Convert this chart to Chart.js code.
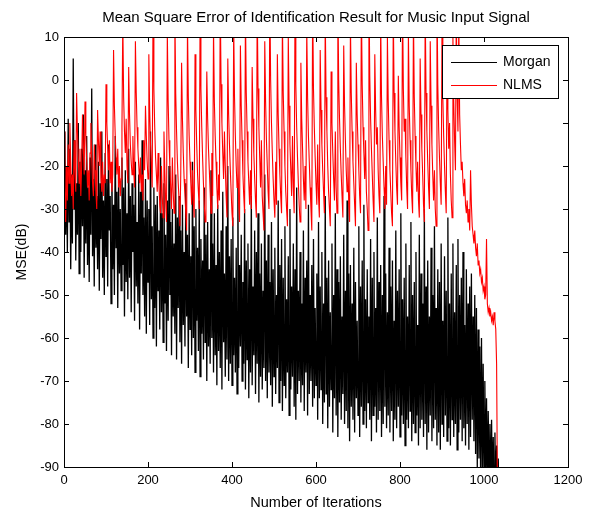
<!DOCTYPE html>
<html>
<head>
<meta charset="utf-8">
<script src="https://cdn.jsdelivr.net/npm/chart.js@4.4.1/dist/chart.umd.min.js"></script>
<style>
  html, body { margin: 0; padding: 0; background: #fff; }
</style>
</head>
<body>
<canvas id="mse" width="592" height="513"></canvas>
<script>
// one sample every 2 iterations (dB)
const STEP = 2;

const morgan = [
  -30, -12, -36, -20, -40, -9, -33, -16, -44, -22,
  -38, 5, -30, -14, -42, -24, -36, -10, -45, -19,
  -40, -16, -34, -8, -46, -21, -38, -13, -43, -25,
  -47, -18, -36, -2, -41, -23, -48, -15, -39, -27,
  -44, -19, -49, -24, -37, -12, -46, -28, -50, -17,
  -41, -23, -48, -15, -35, -27, -52, -20, -44, -29,
  -50, -13, -39, -26, -53, -22, -45, -30, -49, -18,
  -43, -25, -55, -21, -47, -31, -51, -16, -46, -27,
  -54, -24, -40, -29, -56, -19, -48, -33, -52, -22,
  -58, -26, -45, -14, -50, -32, -55, -23, -59, -28,
  -47, -30, -57, -12, -51, -34, -60, -25, -53, -29,
  -62, -27, -49, -35, -58, -18, -54, -31, -61, -24,
  -52, -36, -63, -28, -56, -20, -50, -33, -64, -30,
  -55, -38, -59, -22, -65, -32, -53, -27, -61, -35,
  -66, -29, -57, -40, -62, -24, -55, -36, -67, -31,
  -58, -41, -64, -19, -60, -34, -68, -30, -56, -39,
  -63, -28, -69, -37, -59, -42, -65, -25, -61, -36,
  -70, -33, -62, -44, -66, -21, -60, -38, -68, -31,
  -64, -43, -71, -29, -63, -40, -67, -35, -72, -26,
  -61, -45, -69, -34, -65, -20, -70, -41, -66, -37,
  -71, -32, -64, -46, -68, -39, -73, -24, -67, -43,
  -62, -36, -70, -47, -66, -30, -72, -42, -65, -38,
  -74, -44, -68, -27, -71, -48, -64, -35, -73, -40,
  -66, -31, -75, -45, -69, -38, -72, -49, -67, -22,
  -70, -42, -74, -36, -68, -47, -71, -33, -76, -44,
  -69, -39, -73, -50, -67, -28, -75, -43, -70, -37,
  -77, -46, -71, -34, -74, -51, -68, -41, -78, -30,
  -72, -48, -69, -38, -76, -44, -79, -25, -73, -49,
  -70, -40, -75, -52, -71, -35, -77, -46, -68, -42,
  -78, -29, -73, -50, -70, -43, -76, -37, -74, -53,
  -71, -45, -79, -33, -74, -48, -72, -40, -80, -52,
  -75, -27, -73, -46, -81, -42, -76, -54, -72, -38,
  -82, -50, -74, -31, -78, -44, -83, -47, -75, -41,
  -79, -55, -73, -36, -80, -49, -77, -28, -81, -45,
  -84, -43, -76, -52, -79, -39, -82, -47, -74, -56,
  -78, -34, -83, -48, -76, -42, -80, -29, -77, -51,
  -81, -44, -75, -55, -79, -37, -84, -46, -78, -40,
  -76, -53, -82, -32, -79, -47, -77, -43, -83, -50,
  -80, -27, -76, -45, -81, -54, -78, -39, -82, -48,
  -77, -42, -84, -56, -79, -35, -81, -49, -76, -44,
  -83, -31, -78, -51, -80, -46, -85, -38, -79, -55,
  -81, -43, -77, -33, -84, -50, -80, -47, -82, -40,
  -78, -57, -85, -36, -81, -45, -79, -52, -83, -30,
  -80, -48, -86, -42, -82, -55, -78, -39, -84, -50,
  -81, -34, -79, -53, -85, -44, -82, -47, -86, -38,
  -80, -56, -83, -41, -78, -49, -84, -32, -81, -52,
  -85, -45, -79, -38, -83, -54, -80, -43, -86, -37,
  -82, -50, -79, -46, -84, -40, -81, -57, -85, -44,
  -80, -52, -86, -48, -83, -45, -79, -55, -84, -50,
  -87, -53, -90, -58, -88, -62, -93, -60, -91, -66,
  -94, -70, -92, -74, -96, -77, -93, -80, -97, -79,
  -95, -83, -98, -82, -96, -85, -100, -88, -104, -110
];

const nlms = [
  -12, -25, -33, -20, -28, -15, -24, -10, -19, -27,
  -22, -30, -14, -21, -26, -3, -12, -18, -24, -16,
  -27, -20, -8, -15, -22, -5, -13, -19, -25, -21,
  -28, -17, -10, -18, -24, -27, -15, -21, -26, -30,
  -7, -14, -20, -12, -23, -26, -19, -27, -22, -24,
  -1, -10, -16, -21, -14, -24, -19, -26, -22, 7,
  -6, -13, -18, -22, -16, -25, -20, -27, -23, -11,
  14, -4, -12, -17, -9, -20, -24, 3, -8, -15,
  -19, -22, -13, -21, -25, 9, -3, -11, -16, -20,
  -24, -18, -26, -22, -28, -14, -21, -6, -13, -19,
  -23, 6, -7, -15, -20, -25, 17, -2, -11, -18,
  -22, -26, -17, -24, -29, -31, -20, -27, -32, -12,
  -21, -28, -33, 11, -5, -14, -20, -25, -30, -18,
  -26, -31, 16, -3, -12, -19, -24, -28, -34, -22,
  4, -9, -17, -23, -27, -31, -35, 13, -4, -13,
  -19, -24, -29, -21, -28, -32, 6, -7, -15, -22,
  -26, -30, 15, -2, -11, -18, -24, -29, -33, -20,
  2, -9, -16, -21, -26, -31, -17, -27, 12, -5,
  -13, -19, -25, -30, -22, -28, 19, -1, -10, -17,
  -23, -12, -20, -27, -32, 5, -8, -15, -21, -26,
  -31, -34, 13, -4, -13, -20, -25, -16, -29, -33,
  8, -6, -14, -22, -27, -31, 16, -3, -12, -19,
  -24, -29, -21, -30, 3, -9, -17, -23, -28, -32,
  18, -2, -11, -18, -25, -14, -27, -31, -35, 9,
  -5, -14, -20, -26, -30, 21, 0, -10, -17, -23,
  -28, -32, -19, -29, 6, -8, -16, -22, -27, -31,
  14, -3, -12, -20, -26, -30, -34, 10, -6, -15,
  -21, -27, -13, -25, -31, 17, -1, -11, -18, -24,
  -29, -33, 4, -9, -16, -23, -28, -20, -30, 12,
  -4, -13, -19, -25, -30, -35, 19, -2, -11, -18,
  -24, -29, -15, -27, -32, 7, -7, -15, -21, -26,
  -31, 15, -4, -12, -20, -26, -30, -34, 2, -10,
  -17, -23, -28, -12, -25, -31, 20, 0, -9, -16,
  -22, -27, -32, 8, -6, -14, -21, -26, -18, -29,
  -33, 13, -3, -12, -19, -24, -29, -34, 4, -8,
  -15, -21, -27, -31, 18, -1, -11, -17, -23, -14,
  -26, -30, -35, 22, 1, -9, -16, -22, -28, -33,
  6, -7, -15, -11, -21, -27, -31, 14, -4, -13,
  -19, -25, -30, -20, -29, 10, -5, -14, -21, -26,
  -31, -34, 16, -3, -12, -19, -25, -29, 1, -11,
  -18, -24, -28, 19, -2, -12, -9, -18, -25, -30,
  11, -6, -14, -21, -27, -31, 15, -4, -13, -20,
  -26, -19, -28, -32, 5, -8, -16, -22, -29, -33,
  17, -3, -12, -19, -25, -30, 9, -6, -15, -22,
  -28, -21, -30, -34, 20, -1, -11, -18, -24, -29,
  13, -4, -13, -20, -26, -31, 7, -7, -16, -10,
  -22, -28, -32, 10, -5, -14, -21, 16, -3, -12,
  14, -8, -15, -21, -19, -24, -27, -23, -29, -31,
  -28, -33, -30, -35, -21, -29, -34, -36, -38, -35,
  -39, -41, -38, -43, -42, -45, -44, -47, -46, -49,
  -48, -51, -50, -37, -52, -54, -53, -55, -54, -56,
  -55, -57, -54, -56, -58, -66, -95, -120, null, null
];

const xTicks = [0, 200, 400, 600, 800, 1000, 1200];
const yTicks = [-90, -80, -70, -60, -50, -40, -30, -20, -10, 0, 10];

const iterations = morgan.map((_, i) => i * STEP);
const toPoints = arr => arr.map((v, i) => ({ x: iterations[i], y: v }));

Chart.defaults.font.family = '"Liberation Sans", Arial, sans-serif';
Chart.defaults.color = '#000';

// matlab style box: frame, inward ticks on all sides, legend in the corner
const matlabFrame = {
  id: 'matlabFrame',
  afterDraw(chart) {
    const { ctx, chartArea: a, scales } = chart;
    const len = 5;
    ctx.save();
    ctx.strokeStyle = '#000';
    ctx.lineWidth = 1;
    ctx.beginPath();
    scales.x.ticks.forEach(t => {
      const px = Math.round(scales.x.getPixelForValue(t.value)) + 0.5;
      ctx.moveTo(px, a.bottom); ctx.lineTo(px, a.bottom - len);
      ctx.moveTo(px, a.top); ctx.lineTo(px, a.top + len);
    });
    scales.y.ticks.forEach(t => {
      const py = Math.round(scales.y.getPixelForValue(t.value)) + 0.5;
      ctx.moveTo(a.left, py); ctx.lineTo(a.left + len, py);
      ctx.moveTo(a.right, py); ctx.lineTo(a.right - len, py);
    });
    ctx.stroke();
    ctx.strokeRect(Math.round(a.left) + 0.5, Math.round(a.top) + 0.5,
                   Math.round(a.width), Math.round(a.height));

    // legend
    const lx = Math.round(a.right) - 126, ly = Math.round(a.top) + 8;
    ctx.fillStyle = '#fff';
    ctx.fillRect(lx, ly, 116, 53);
    ctx.strokeRect(lx + 0.5, ly + 0.5, 116, 53);
    ctx.font = '14px "Liberation Sans", Arial, sans-serif';
    ctx.textBaseline = 'middle';
    chart.data.datasets.forEach((ds, i) => {
      const cy = ly + 17 + i * 23 + 0.5;
      ctx.strokeStyle = ds.borderColor;
      ctx.lineWidth = 1;
      ctx.beginPath();
      ctx.moveTo(lx + 9, cy); ctx.lineTo(lx + 55, cy);
      ctx.stroke();
      ctx.fillStyle = '#000';
      ctx.fillText(ds.label, lx + 61, cy);
    });
    ctx.restore();
  }
};

new Chart(document.getElementById('mse'), {
  type: 'line',
  data: {
    datasets: [{
      label: 'Morgan',
      data: toPoints(morgan),
      borderColor: '#000000',
      borderWidth: 1.3,
      pointRadius: 0,
      tension: 0,
      order: 1
    }, {
      label: 'NLMS',
      data: toPoints(nlms),
      borderColor: '#ff0000',
      borderWidth: 1.1,
      pointRadius: 0,
      tension: 0,
      order: 0
    }]
  },
  options: {
    responsive: false,
    animation: false,
    events: [],
    layout: { padding: { left: 0, right: 24, top: 0, bottom: 0 } },
    plugins: {
      legend: { display: false },
      tooltip: { enabled: false },
      title: {
        display: true,
        text: 'Mean Square Error of Identification Result for Music Input Signal',
        fullSize: false,
        font: { size: 15, weight: 'normal', lineHeight: '16px' },
        padding: { top: 10, bottom: 11 }
      }
    },
    scales: {
      x: {
        type: 'linear',
        min: 0,
        max: 1200,
        afterBuildTicks: s => { s.ticks = xTicks.map(v => ({ value: v })); },
        afterFit: s => { s.height = 46; },
        grid: { display: false, drawTicks: false },
        border: { display: false },
        ticks: { font: { size: 13 }, padding: 6, maxRotation: 0, callback: v => String(v) },
        title: {
          display: true,
          text: 'Number of Iterations',
          font: { size: 14.5, lineHeight: '16px' },
          padding: { top: 0, bottom: 2 }
        }
      },
      y: {
        min: -90,
        max: 10,
        afterBuildTicks: s => { s.ticks = yTicks.map(v => ({ value: v })); },
        afterFit: s => { s.width = 64; },
        grid: { display: false, drawTicks: false },
        border: { display: false },
        ticks: { font: { size: 13 }, padding: 5, callback: v => String(v) },
        title: {
          display: true,
          text: 'MSE(dB)',
          font: { size: 14, lineHeight: '16px' },
          padding: { top: 14, bottom: 0 }
        }
      }
    }
  },
  plugins: [matlabFrame]
});
</script>
</body>
</html>
